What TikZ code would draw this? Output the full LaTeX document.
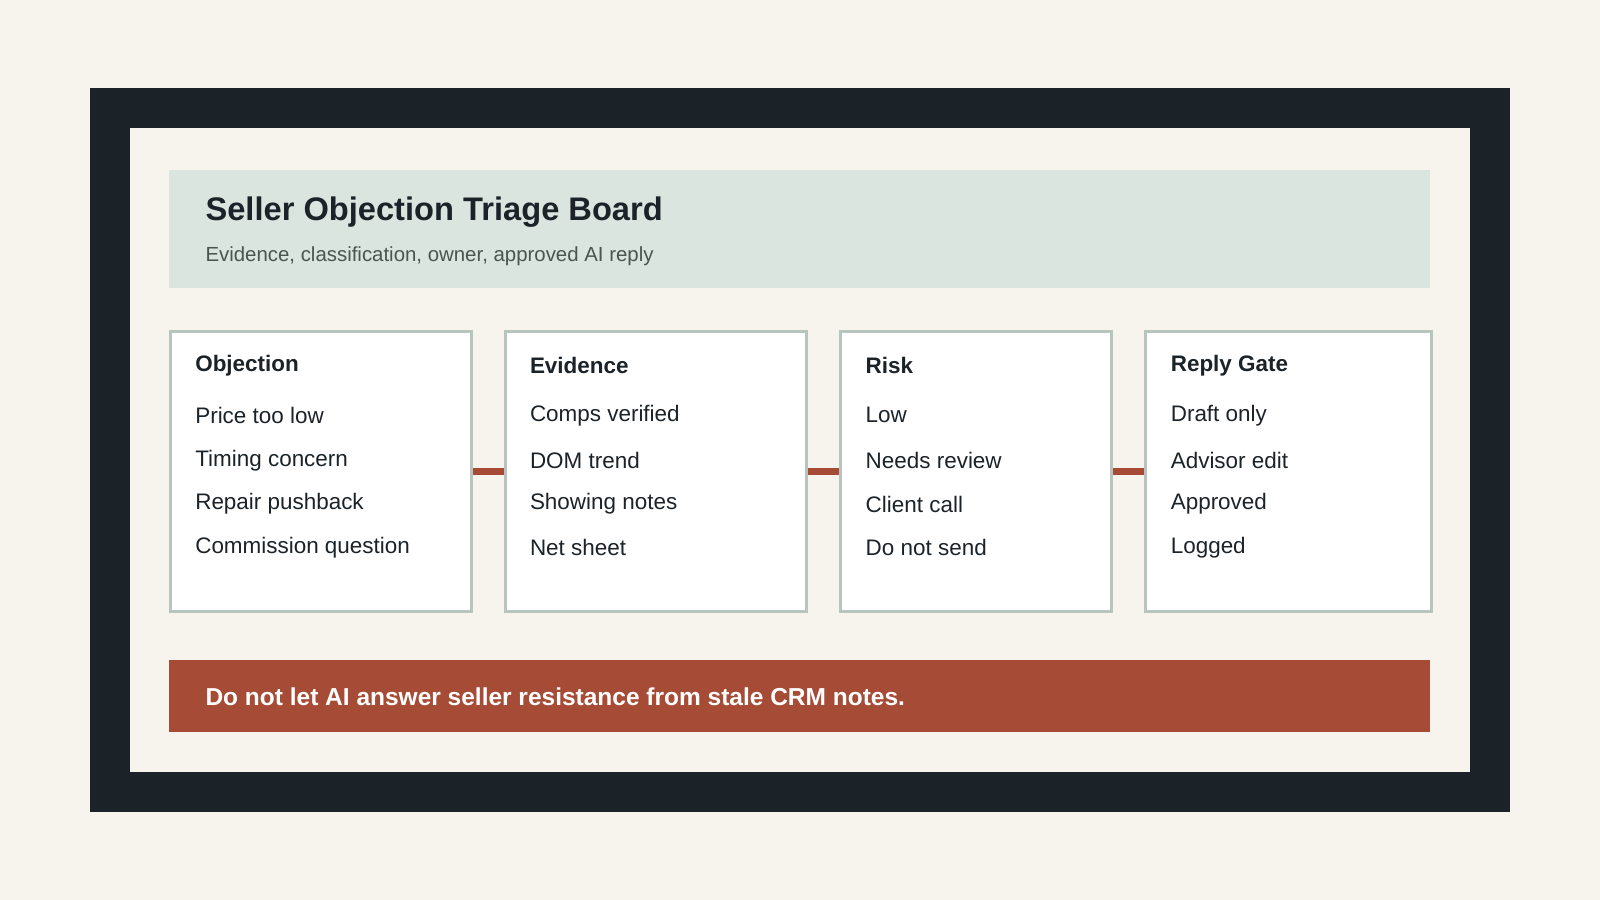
\documentclass[tikz,border=0pt]{standalone}
\usepackage{fontspec}
\setmainfont{Liberation Sans}
\definecolor{paper}{HTML}{F7F4EE}
\definecolor{frame}{HTML}{1B2329}
\definecolor{band}{HTML}{D9E5DE}
\definecolor{edge}{HTML}{B8C4BE}
\definecolor{rust}{HTML}{A64B35}
\definecolor{subtxt}{HTML}{4A5550}
\begin{document}
\begin{tikzpicture}[x=0.5pt,y=-0.5pt,
  card/.style={draw=edge, line width=1.5pt, fill=white, anchor=north west, minimum height=137.5pt, inner sep=0pt},
  head/.style={anchor=west, font=\fontsize{11}{13}\selectfont\bfseries, text=frame, inner sep=0pt},
  item/.style={anchor=west, font=\fontsize{11}{13}\selectfont, text=frame, inner sep=0pt},
  link/.style={draw=rust, line width=3.5pt}]
\fill[paper] (0,0) rectangle (1568,882);
\useasboundingbox (0,0) rectangle (1568,882);
\fill[frame] (88,86) rectangle (1480,796);
\fill[paper] (127,125) rectangle (1441,757);
% header
\fill[band] (166,167) rectangle (1401,282);
\node[anchor=west, inner sep=0pt, text=frame, font=\fontsize{16}{19}\selectfont\bfseries] (title) at (201,208) {Seller Objection Triage Board};
\node[anchor=west, inner sep=0pt, text=subtxt, font=\fontsize{10}{12}\selectfont] (sub) at (201,251) {Evidence, classification, owner, approved AI reply};
% cards
\node[card, minimum width=147.5pt] (objection) at (166,323) {};
\node[card, minimum width=147.5pt] (evidence) at (494,323) {};
\node[card, minimum width=133pt] (risk) at (822,323) {};
\node[card, minimum width=140pt] (gate) at (1121,323) {};
\draw[link] (objection.east) -- (evidence.west);
\draw[link] (evidence.east) -- (risk.west);
\draw[link] (risk.east) -- (gate.west);
% card texts
\node[head] (h1) at (191,358) {Objection};
\node[item] (o1) at (191,407) {Price too low};
\node[item] (o2) at (191,451) {Timing concern};
\node[item] (o3) at (191,494) {Repair pushback};
\node[item] (o4) at (191,537) {Commission question};
\node[head] (h2) at (519,358) {Evidence};
\node[item] (e1) at (519,407) {Comps verified};
\node[item] (e2) at (519,451) {DOM trend};
\node[item] (e3) at (519,494) {Showing notes};
\node[item] (e4) at (519,537) {Net sheet};
\node[head] (h3) at (848,358) {Risk};
\node[item] (r1) at (848,407) {Low};
\node[item] (r2) at (848,451) {Needs review};
\node[item] (r3) at (848,494) {Client call};
\node[item] (r4) at (848,537) {Do not send};
\node[head] (h4) at (1147,358) {Reply Gate};
\node[item] (g1) at (1147,407) {Draft only};
\node[item] (g2) at (1147,451) {Advisor edit};
\node[item] (g3) at (1147,494) {Approved};
\node[item] (g4) at (1147,537) {Logged};
% warning banner
\fill[rust] (166,647) rectangle (1401,717);
\node[anchor=west, inner sep=0pt, text=white, font=\fontsize{12}{14}\selectfont\bfseries] (warn) at (201,683) {Do not let AI answer seller resistance from stale CRM notes.};
\end{tikzpicture}
\end{document}
